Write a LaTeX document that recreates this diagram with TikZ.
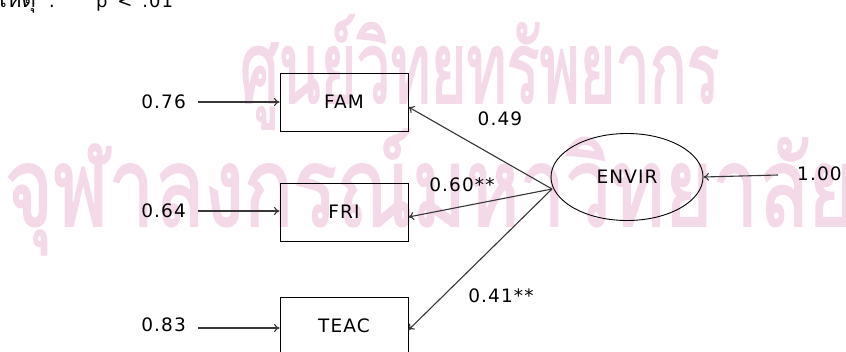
\documentclass[tikz,border=0pt]{standalone}
\usepackage{fontspec}
\setmainfont{DejaVu Sans}[LetterSpace=6]
\newfontfamily\thaifont[Script=Thai]{Loma}
\newfontfamily\wmfont[Script=Thai,FakeBold=2]{Loma}
\usetikzlibrary{arrows.meta,shapes.geometric}
\definecolor{wm}{RGB}{244,218,232}
\definecolor{ln}{RGB}{55,55,55}
\tikzset{
  varbox/.style={draw=black,line width=0.9pt,minimum width=128pt,minimum height=58pt,inner sep=0pt,font=\fontsize{18.5}{18.5}\selectfont},
  latent/.style={ellipse,draw=black,line width=0.9pt,minimum width=152pt,minimum height=87pt,inner sep=0pt,font=\fontsize{18.5}{18.5}\selectfont},
  lbl/.style={inner sep=0pt,font=\fontsize{18.5}{18.5}\selectfont},
  arr/.style={draw=ln,line width=1.1pt,-{To[length=5.5pt,width=8pt]}},
  wmtext/.style={inner sep=0pt,anchor=west,text=wm},
}
\begin{document}
\begin{tikzpicture}[x=1pt,y=-1pt]
\useasboundingbox (0,0) rectangle (846,351);
\clip (0,0) rectangle (846,351);
\fill[white] (0,0) rectangle (846,351);
% watermark
\node[wmtext,font=\wmfont\fontsize{100}{100}\selectfont,xscale=0.61] (wm1) at (240,72) {ศูนย์วิทยทรัพยากร};
\node[wmtext,font=\wmfont\fontsize{110}{110}\selectfont,xscale=0.74] (wm2) at (5,192) {จุฬาลงกรณ์มหาวิทยาลัย};
% note
\node[inner sep=0pt,anchor=base east,font=\thaifont\fontsize{22}{22}\selectfont] (note) at (36,7) {หมายเหตุ};
\node[inner sep=0pt,anchor=base,font=\fontsize{18}{18}\selectfont] (colon) at (52,7) {:};
\node[inner sep=0pt,anchor=base west,font=\fontsize{18}{18}\selectfont] (stars) at (70,-2) {**};
\node[inner sep=0pt,anchor=base west,font=\fontsize{18}{18}\selectfont] (sig) at (96,7) {p \,<\, .01};
% boxes
\node[varbox] (fam) at (344,102) {FAM};
\node[varbox] (fri) at (344,212) {FRI};
\node[varbox] (teac) at (344,326) {TEAC};
\node[latent] (envir) at (627,177) {ENVIR};
% error labels
\node[lbl,anchor=east] (e1) at (186,102) {0.76};
\node[lbl,anchor=east] (e2) at (186,211) {0.64};
\node[lbl,anchor=east] (e3) at (186,325) {0.83};
\node[lbl,anchor=west] (e4) at (797,174) {1.00};
\coordinate (c1) at (198,102);
\coordinate (c2) at (198,211);
\coordinate (c3) at (198,328);
\coordinate (c4) at (778,175);
\coordinate (src) at (552,189);
\draw[arr] (c1) -- (c1 -| fam.west);
\draw[arr] (c2) -- (c2 -| fri.west);
\draw[arr] (c3) -- (c3 -| teac.west);
\draw[arr] (c4) -- (envir.east);
\coordinate (t1) at (fam.east |- 0,107);
\coordinate (t2) at (fri.east |- 0,217);
\coordinate (t3) at (teac.east |- 0,330);
\draw[arr] (src) -- (t1);
\draw[arr] (src) -- (t2);
\draw[arr] (src) -- (t3);
% path labels
\node[lbl] (l1) at (500,119) {0.49};
\node[lbl] (l2) at (462,185) {0.60**};
\node[lbl] (l3) at (501,296) {0.41**};
\end{tikzpicture}
\end{document}
